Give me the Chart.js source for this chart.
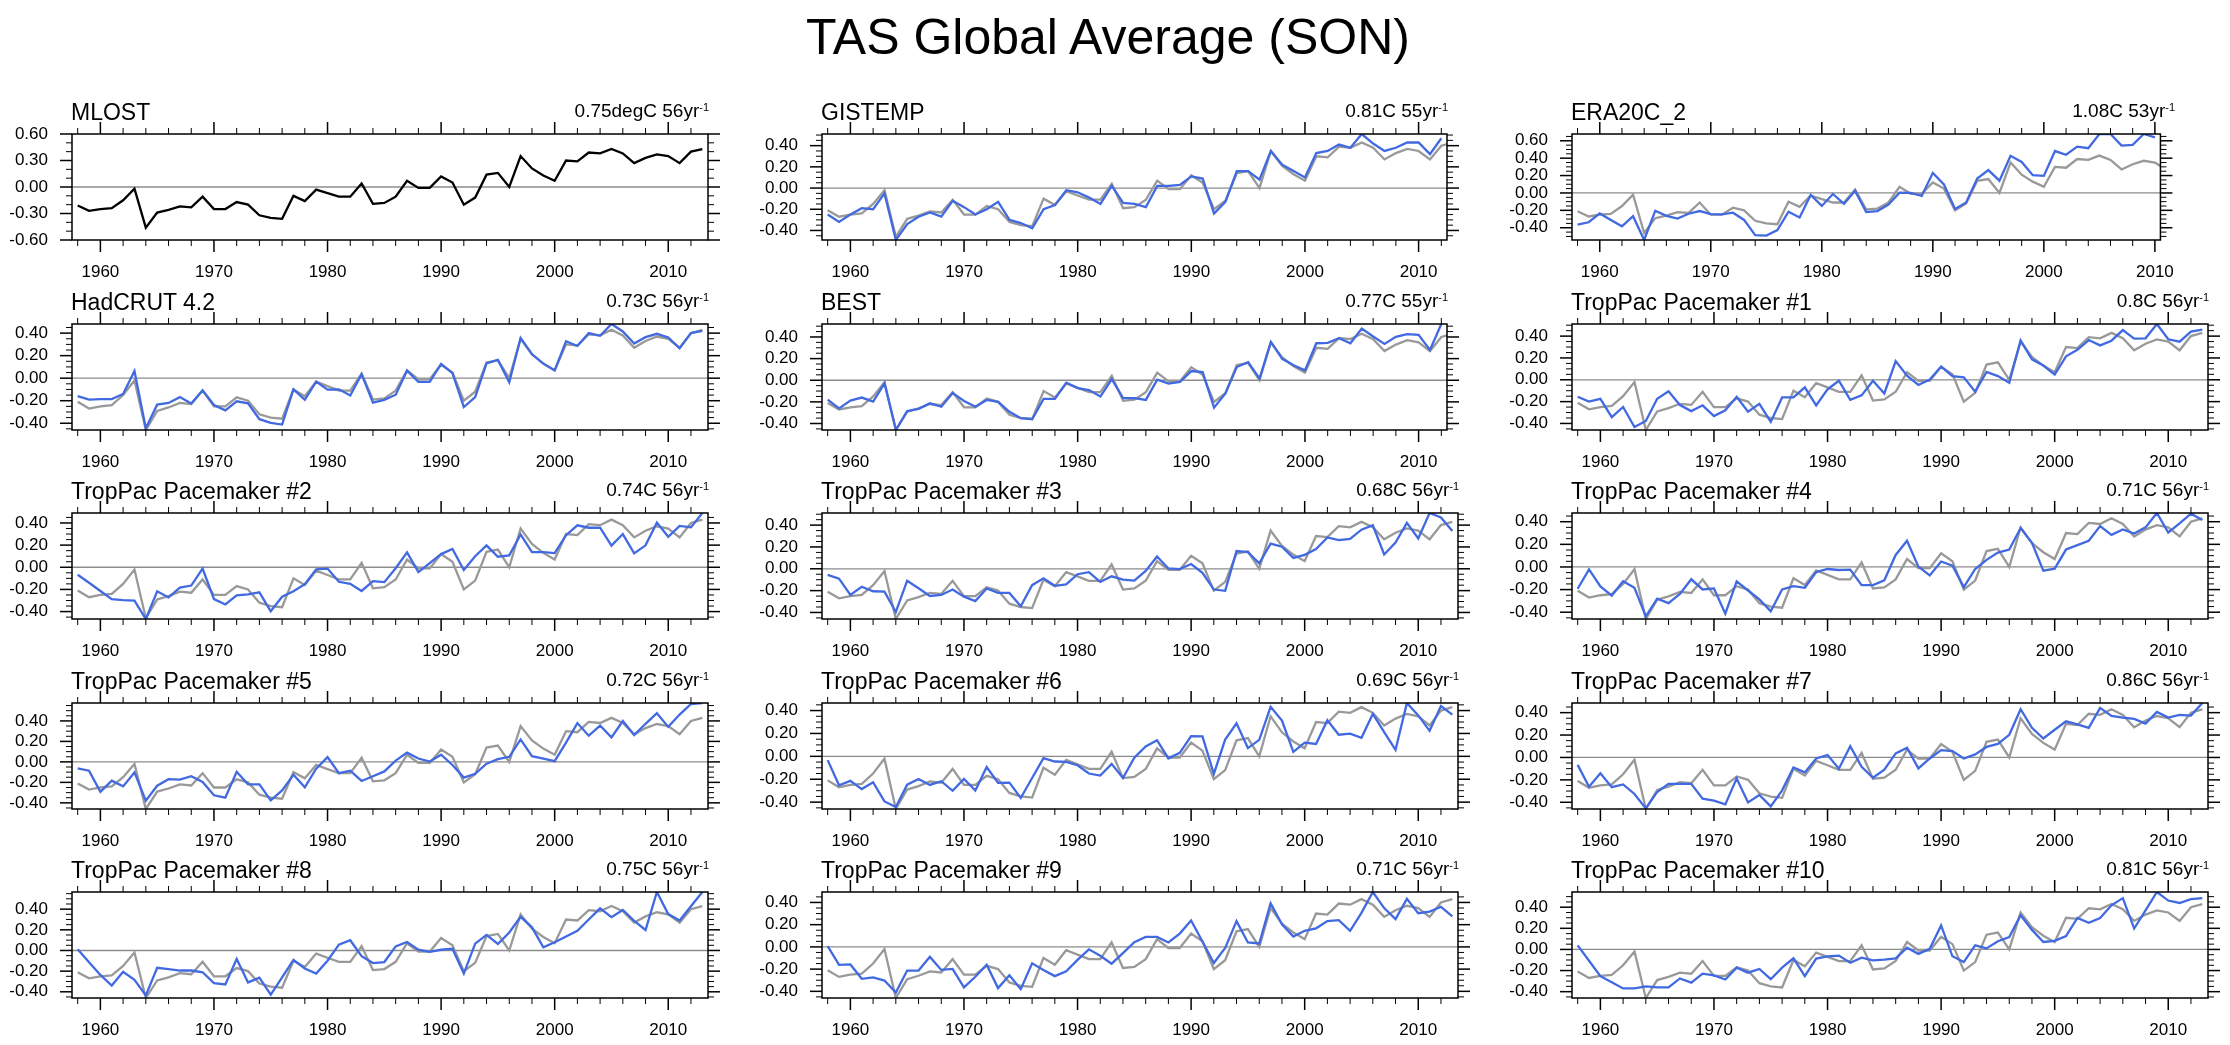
<!DOCTYPE html>
<html>
<head>
<meta charset="utf-8">
<title>TAS Global Average (SON)</title>
<script src="https://cdn.jsdelivr.net/npm/chart.js@4"></script>
<style>
  html, body { margin: 0; padding: 0; background: #fff; width: 2230px; height: 1045px; overflow: hidden; }
  body { position: relative; font-family: "Liberation Sans", Arial, sans-serif; color: #000; }
  canvas { position: absolute; }
  .main { position: absolute; left: 0; top: 12px; width: 2216px; text-align: center; font-size: 50px; line-height: 50px; }
  .ttl { position: absolute; font-size: 23px; line-height: 23px; white-space: nowrap; }
  .trend { position: absolute; width: 400px; font-size: 19px; line-height: 19px; white-space: nowrap; text-align: right; }
  .trend sup { font-size: 11px; vertical-align: 6px; line-height: 0; }
</style>
</head>
<body>
<div class="main">TAS Global Average (SON)</div>
<script>
// years 1958-2013
const years = [
  1958, 1959, 1960, 1961, 1962, 1963, 1964, 1965, 1966, 1967,
  1968, 1969, 1970, 1971, 1972, 1973, 1974, 1975, 1976, 1977,
  1978, 1979, 1980, 1981, 1982, 1983, 1984, 1985, 1986, 1987,
  1988, 1989, 1990, 1991, 1992, 1993, 1994, 1995, 1996, 1997,
  1998, 1999, 2000, 2001, 2002, 2003, 2004, 2005, 2006, 2007,
  2008, 2009, 2010, 2011, 2012, 2013
]

// reference series (grey line in every other panel)
const mlost = [
  -0.21, -0.27, -0.25, -0.24, -0.15, -0.02, -0.46, -0.29, -0.26, -0.22,
  -0.23, -0.11, -0.25, -0.25, -0.17, -0.20, -0.32, -0.35, -0.36, -0.10,
  -0.16, -0.03, -0.07, -0.11, -0.11, 0.04, -0.19, -0.18, -0.11, 0.07,
  -0.01, -0.01, 0.12, 0.05, -0.20, -0.12, 0.14, 0.16, 0.00, 0.35,
  0.21, 0.13, 0.07, 0.30, 0.29, 0.39, 0.38, 0.43, 0.38, 0.27,
  0.33, 0.37, 0.35, 0.27, 0.40, 0.43
]

const gistemp = [ // 1958-2012
  -0.25, -0.32, -0.25, -0.19, -0.20, -0.05, -0.49, -0.34, -0.27, -0.23,
  -0.27, -0.12, -0.18, -0.25, -0.20, -0.13, -0.30, -0.33, -0.38, -0.20,
  -0.16, -0.02, -0.04, -0.09, -0.15, 0.02, -0.14, -0.15, -0.18, 0.02,
  0.02, 0.03, 0.11, 0.09, -0.24, -0.13, 0.16, 0.16, 0.08, 0.35,
  0.22, 0.16, 0.10, 0.33, 0.35, 0.41, 0.38, 0.51, 0.42, 0.35,
  0.38, 0.43, 0.43, 0.32, 0.47
]

const era20c = [ // 1958-2010
  -0.365, -0.337, -0.235, -0.31, -0.384, -0.267, -0.541, -0.204, -0.263, -0.294,
  -0.239, -0.208, -0.243, -0.247, -0.227, -0.31, -0.486, -0.49, -0.427, -0.216,
  -0.282, -0.024, -0.149, -0.012, -0.125, 0.024, -0.22, -0.208, -0.133, 0.004,
  0.0, -0.035, 0.231, 0.098, -0.184, -0.11, 0.165, 0.263, 0.141, 0.427,
  0.357, 0.204, 0.196, 0.482, 0.439, 0.533, 0.514, 0.678, 0.678, 0.545,
  0.553, 0.678, 0.639
]

const hadcrut = [
  -0.16, -0.19, -0.186, -0.186, -0.14, 0.063, -0.445, -0.235, -0.22, -0.168,
  -0.225, -0.108, -0.238, -0.286, -0.205, -0.223, -0.364, -0.397, -0.412, -0.099,
  -0.192, -0.03, -0.102, -0.099, -0.153, 0.036, -0.217, -0.192, -0.147, 0.066,
  -0.033, -0.033, 0.126, 0.045, -0.256, -0.168, 0.132, 0.162, -0.036, 0.358,
  0.214, 0.129, 0.069, 0.328, 0.286, 0.40, 0.376, 0.481, 0.415, 0.307,
  0.364, 0.394, 0.361, 0.265, 0.40, 0.421
]

const best = [ // 1958-2012
  -0.179, -0.26, -0.188, -0.16, -0.198, -0.028, -0.458, -0.285, -0.264, -0.213,
  -0.245, -0.119, -0.191, -0.245, -0.182, -0.20, -0.292, -0.351, -0.358, -0.173,
  -0.173, -0.022, -0.072, -0.091, -0.151, 0.009, -0.166, -0.166, -0.182, 0.006,
  -0.031, -0.016, 0.085, 0.075, -0.254, -0.122, 0.122, 0.166, 0.016, 0.355,
  0.198, 0.138, 0.091, 0.342, 0.345, 0.389, 0.342, 0.477, 0.405, 0.336,
  0.402, 0.427, 0.42, 0.28, 0.52
]

const tp1 = [
  -0.156, -0.2, -0.174, -0.343, -0.249, -0.433, -0.377, -0.174, -0.106, -0.231,
  -0.287, -0.234, -0.333, -0.28, -0.156, -0.293, -0.221, -0.386, -0.162, -0.162,
  -0.069, -0.234, -0.087, -0.009, -0.184, -0.143, -0.009, -0.125, 0.171, 0.037,
  -0.047, 0.003, 0.121, 0.034, 0.022, -0.109, 0.072, 0.034, -0.028, 0.361,
  0.187, 0.131, 0.047, 0.215, 0.274, 0.364, 0.315, 0.358, 0.455, 0.377,
  0.38, 0.511, 0.371, 0.349, 0.442, 0.46
]

const tp2 = [
  -0.067, -0.14, -0.214, -0.287, -0.296, -0.302, -0.467, -0.217, -0.272, -0.183,
  -0.165, -0.012, -0.287, -0.336, -0.253, -0.244, -0.226, -0.397, -0.266, -0.217,
  -0.153, -0.018, -0.012, -0.131, -0.15, -0.214, -0.125, -0.134, -0.009, 0.134,
  -0.043, 0.037, 0.119, 0.165, -0.024, 0.10, 0.198, 0.095, 0.107, 0.296,
  0.137, 0.137, 0.128, 0.29, 0.379, 0.357, 0.357, 0.195, 0.30, 0.125,
  0.198, 0.403, 0.275, 0.373, 0.36, 0.49
]

const tp3 = [
  -0.056, -0.09, -0.24, -0.165, -0.206, -0.209, -0.396, -0.109, -0.178, -0.249,
  -0.24, -0.19, -0.255, -0.296, -0.181, -0.221, -0.221, -0.343, -0.15, -0.087,
  -0.156, -0.143, -0.05, -0.031, -0.121, -0.069, -0.10, -0.109, -0.019, 0.112,
  0.003, -0.003, 0.044, -0.037, -0.19, -0.202, 0.162, 0.153, 0.05, 0.231,
  0.202, 0.10, 0.128, 0.181, 0.287, 0.262, 0.274, 0.358, 0.399, 0.131,
  0.24, 0.421, 0.277, 0.511, 0.47, 0.346
]

const tp4 = [
  -0.193, -0.021, -0.172, -0.253, -0.127, -0.184, -0.437, -0.281, -0.32, -0.238,
  -0.109, -0.199, -0.19, -0.413, -0.127, -0.208, -0.287, -0.392, -0.199, -0.169,
  -0.184, -0.045, -0.018, -0.027, -0.024, -0.16, -0.16, -0.118, 0.106, 0.232,
  0.003, -0.075, 0.048, 0.012, -0.178, -0.018, 0.063, 0.127, 0.154, 0.344,
  0.214, -0.033, -0.015, 0.154, 0.193, 0.232, 0.362, 0.284, 0.332, 0.296,
  0.35, 0.477, 0.305, 0.386, 0.471, 0.416
]

const tp5 = [
  -0.063, -0.086, -0.292, -0.183, -0.239, -0.103, -0.379, -0.233, -0.169, -0.173,
  -0.14, -0.196, -0.326, -0.349, -0.096, -0.219, -0.219, -0.375, -0.279, -0.126,
  -0.249, -0.066, 0.047, -0.11, -0.086, -0.186, -0.14, -0.093, 0.013, 0.09,
  0.033, 0.003, 0.07, -0.03, -0.153, -0.116, -0.017, 0.027, 0.05, 0.219,
  0.056, 0.033, 0.007, 0.189, 0.379, 0.256, 0.355, 0.239, 0.399, 0.262,
  0.372, 0.475, 0.342, 0.462, 0.565, 0.575
]

const tp6 = [
  -0.033, -0.253, -0.214, -0.286, -0.226, -0.394, -0.442, -0.247, -0.198, -0.25,
  -0.217, -0.301, -0.198, -0.298, -0.093, -0.232, -0.229, -0.364, -0.189, -0.015,
  -0.045, -0.048, -0.078, -0.15, -0.168, -0.066, -0.189, -0.012, 0.087, 0.141,
  -0.018, 0.03, 0.177, 0.174, -0.153, 0.147, 0.289, 0.072, 0.144, 0.433,
  0.313, 0.039, 0.12, 0.108, 0.316, 0.189, 0.198, 0.162, 0.37, 0.211,
  0.057, 0.466, 0.358, 0.223, 0.439, 0.364
]

const tp7 = [
  -0.066, -0.262, -0.142, -0.265, -0.241, -0.326, -0.455, -0.308, -0.235, -0.235,
  -0.235, -0.368, -0.386, -0.419, -0.187, -0.401, -0.335, -0.437, -0.293, -0.09,
  -0.133, -0.009, 0.021, -0.10, 0.10, -0.084, -0.181, -0.109, 0.036, 0.087,
  -0.097, -0.009, 0.066, 0.057, -0.009, 0.027, 0.094, 0.121, 0.202, 0.431,
  0.265, 0.169, 0.247, 0.323, 0.296, 0.265, 0.443, 0.371, 0.356, 0.344,
  0.302, 0.407, 0.356, 0.38, 0.374, 0.486
]

const tp8 = [
  0.013, -0.115, -0.237, -0.339, -0.207, -0.283, -0.435, -0.168, -0.181, -0.194,
  -0.194, -0.211, -0.316, -0.329, -0.082, -0.309, -0.263, -0.428, -0.26, -0.092,
  -0.174, -0.224, -0.099, 0.056, 0.099, -0.056, -0.122, -0.112, 0.04, 0.082,
  0.007, -0.013, 0.007, 0.016, -0.224, 0.066, 0.151, 0.063, 0.174, 0.326,
  0.224, 0.03, 0.079, 0.135, 0.191, 0.30, 0.408, 0.323, 0.392, 0.286,
  0.198, 0.566, 0.352, 0.29, 0.428, 0.566
]

const tp9 = [
  0.006, -0.161, -0.158, -0.287, -0.275, -0.303, -0.411, -0.213, -0.213, -0.09,
  -0.207, -0.198, -0.364, -0.269, -0.161, -0.371, -0.256, -0.38, -0.148, -0.207,
  -0.263, -0.219, -0.117, -0.022, -0.08, -0.151, -0.056, 0.043, 0.09, 0.09,
  0.04, 0.12, 0.238, 0.049, -0.145, -0.009, 0.232, 0.04, 0.031, 0.392,
  0.204, 0.093, 0.145, 0.167, 0.232, 0.241, 0.145, 0.306, 0.494, 0.349,
  0.25, 0.432, 0.303, 0.318, 0.361, 0.275
]

const tp10 = [
  0.039, -0.107, -0.253, -0.311, -0.369, -0.369, -0.35, -0.36, -0.36, -0.275,
  -0.314, -0.23, -0.246, -0.285, -0.172, -0.22, -0.185, -0.282, -0.172, -0.084,
  -0.253, -0.087, -0.065, -0.058, -0.126, -0.078, -0.104, -0.097, -0.084, 0.016,
  -0.042, 0.006, 0.227, -0.065, -0.12, 0.039, 0.01, 0.078, 0.117, 0.324,
  0.185, 0.071, 0.081, 0.126, 0.298, 0.253, 0.298, 0.418, 0.486, 0.198,
  0.369, 0.544, 0.463, 0.44, 0.476, 0.486
]

const titles = [
  'MLOST', 'GISTEMP', 'ERA20C_2',
  'HadCRUT 4.2', 'BEST', 'TropPac Pacemaker #1',
  'TropPac Pacemaker #2', 'TropPac Pacemaker #3', 'TropPac Pacemaker #4',
  'TropPac Pacemaker #5', 'TropPac Pacemaker #6', 'TropPac Pacemaker #7',
  'TropPac Pacemaker #8', 'TropPac Pacemaker #9', 'TropPac Pacemaker #10'
]
const trends = [
  '0.75degC 56yr', '0.81C 55yr', '1.08C 53yr',
  '0.73C 56yr', '0.77C 55yr', '0.8C 56yr',
  '0.74C 56yr', '0.68C 56yr', '0.71C 56yr',
  '0.72C 56yr', '0.69C 56yr', '0.86C 56yr',
  '0.75C 56yr', '0.71C 56yr', '0.81C 56yr'
]
const series = [
  mlost, gistemp, era20c,
  hadcrut, best, tp1,
  tp2, tp3, tp4,
  tp5, tp6, tp7,
  tp8, tp9, tp10
]

// layout
const PX_PER_YEAR = 636 / 56
const COL_LEFT = [72, 822, 1572]
const ROW_TOP = [134, 324, 513, 703, 892]
const PLOT_H = 106
const PAD_L = 72, PAD_T = 45, PAD_R = 22, PAD_B = 50
const FONT = '"Liberation Sans", Arial, sans-serif'
const BLUE = '#4169e1'
const GREY = '#999999'

// frame, outward tick marks and zero line (NCL style)
const ncl = {
  id: 'ncl',
  beforeDatasetsDraw(chart) {
    const { ctx, chartArea: a, scales: { y } } = chart
    const y0 = y.getPixelForValue(0)
    ctx.save()
    ctx.strokeStyle = '#8c8c8c'
    ctx.lineWidth = 1.3
    ctx.beginPath()
    ctx.moveTo(a.left, y0)
    ctx.lineTo(a.right, y0)
    ctx.stroke()
    ctx.restore()
  },
  afterDraw(chart, args, opts) {
    const { ctx, chartArea: a, scales: { x, y } } = chart
    ctx.save()
    ctx.strokeStyle = '#000'
    const tick = (x1, y1, x2, y2, w) => {
      ctx.lineWidth = w
      ctx.beginPath()
      ctx.moveTo(x1, y1)
      ctx.lineTo(x2, y2)
      ctx.stroke()
    }
    for (let v = 1958; v <= x.max; v += 2) {
      const px = x.getPixelForValue(v)
      const major = v % 10 === 0
      const len = major ? 12 : 6
      const w = major ? 1.5 : 1
      tick(px, a.bottom, px, a.bottom + len, w)
      tick(px, a.top, px, a.top - len, w)
    }
    const k0 = Math.ceil(y.min / opts.minor - 1e-6)
    const k1 = Math.floor(y.max / opts.minor + 1e-6)
    for (let k = k0; k <= k1; k++) {
      const v = k * opts.minor
      const r = v / opts.step
      const major = Math.abs(r - Math.round(r)) < 1e-6
      const py = y.getPixelForValue(v)
      const len = major ? 12 : 6
      const w = major ? 1.5 : 1
      tick(a.left, py, a.left - len, py, w)
      tick(a.right, py, a.right + len, py, w)
    }
    ctx.lineWidth = 1.5
    ctx.strokeRect(a.left, a.top, a.right - a.left, a.bottom - a.top)
    ctx.restore()
  }
}

function makePanel(i) {
  const row = Math.floor(i / 3)
  const col = i % 3
  const vals = series[i]
  const yrs = years.slice(0, vals.length)
  const isRef = i === 0
  const plotW = Math.round(yrs.length * PX_PER_YEAR)
  const left = COL_LEFT[col]
  const top = ROW_TOP[row]

  const canvas = document.createElement('canvas')
  canvas.width = PAD_L + plotW + PAD_R
  canvas.height = PAD_T + PLOT_H + PAD_B
  canvas.style.left = (left - PAD_L) + 'px'
  canvas.style.top = (top - PAD_T) + 'px'
  document.body.appendChild(canvas)

  const ttl = document.createElement('div')
  ttl.className = 'ttl'
  ttl.textContent = titles[i]
  ttl.style.left = (left - 1) + 'px'
  ttl.style.top = (top - 14 - 0.8465 * 23) + 'px'
  document.body.appendChild(ttl)

  const tr = document.createElement('div')
  tr.className = 'trend'
  tr.innerHTML = trends[i] + '<sup>-1</sup>'
  tr.style.left = (left + plotW + 1 - 400) + 'px'
  tr.style.top = (top - 16.5 - 0.8465 * 19) + 'px'
  document.body.appendChild(tr)

  const datasets = [{
    data: yrs.map((yr, k) => ({ x: yr, y: vals[k] })),
    borderColor: isRef ? '#000' : BLUE,
    borderWidth: 2.3,
    pointRadius: 0,
    tension: 0,
    order: 0
  }]
  let yMin = -0.6, yMax = 0.6, step = 0.3, minor = 0.1
  if (!isRef) {
    const grey = yrs.map((yr, k) => mlost[k])
    datasets.push({
      data: years.map((yr, k) => ({ x: yr, y: mlost[k] })),
      borderColor: GREY,
      borderWidth: 2.3,
      pointRadius: 0,
      tension: 0,
      order: 1
    })
    yMin = Math.min(...vals, ...grey)
    yMax = Math.max(...vals, ...grey)
    step = 0.2
    minor = 0.05
  }

  new Chart(canvas, {
    type: 'line',
    data: { datasets },
    plugins: [ncl],
    options: {
      responsive: false,
      animation: false,
      devicePixelRatio: 1,
      layout: { padding: { top: PAD_T, right: PAD_R, left: 0, bottom: 0 } },
      plugins: { legend: { display: false }, tooltip: { enabled: false }, ncl: { step, minor } },
      scales: {
        x: {
          type: 'linear',
          min: yrs[0] - 0.5,
          max: yrs[yrs.length - 1] + 0.5,
          afterBuildTicks: s => {
            s.ticks = [1960, 1970, 1980, 1990, 2000, 2010].map(v => ({ value: v }))
          },
          afterFit: s => { s.height = PAD_B },
          grid: { display: false, drawTicks: false },
          border: { display: false },
          ticks: {
            callback: v => String(v),
            autoSkip: false,
            maxRotation: 0,
            padding: 22,
            color: '#000',
            font: { family: FONT, size: 17 }
          }
        },
        y: {
          type: 'linear',
          min: yMin,
          max: yMax,
          afterBuildTicks: s => {
            const out = []
            const k0 = Math.ceil(yMin / step - 1e-6)
            const k1 = Math.floor(yMax / step + 1e-6)
            for (let k = k1; k >= k0; k--) out.push({ value: k * step })
            s.ticks = out
          },
          afterFit: s => { s.width = PAD_L },
          grid: { display: false, drawTicks: false },
          border: { display: false },
          ticks: {
            callback: v => v.toFixed(2),
            autoSkip: false,
            padding: 24,
            color: '#000',
            font: { family: FONT, size: 17 }
          }
        }
      }
    }
  })
}

for (let i = 0; i < series.length; i++) makePanel(i)
</script>
</body>
</html>
